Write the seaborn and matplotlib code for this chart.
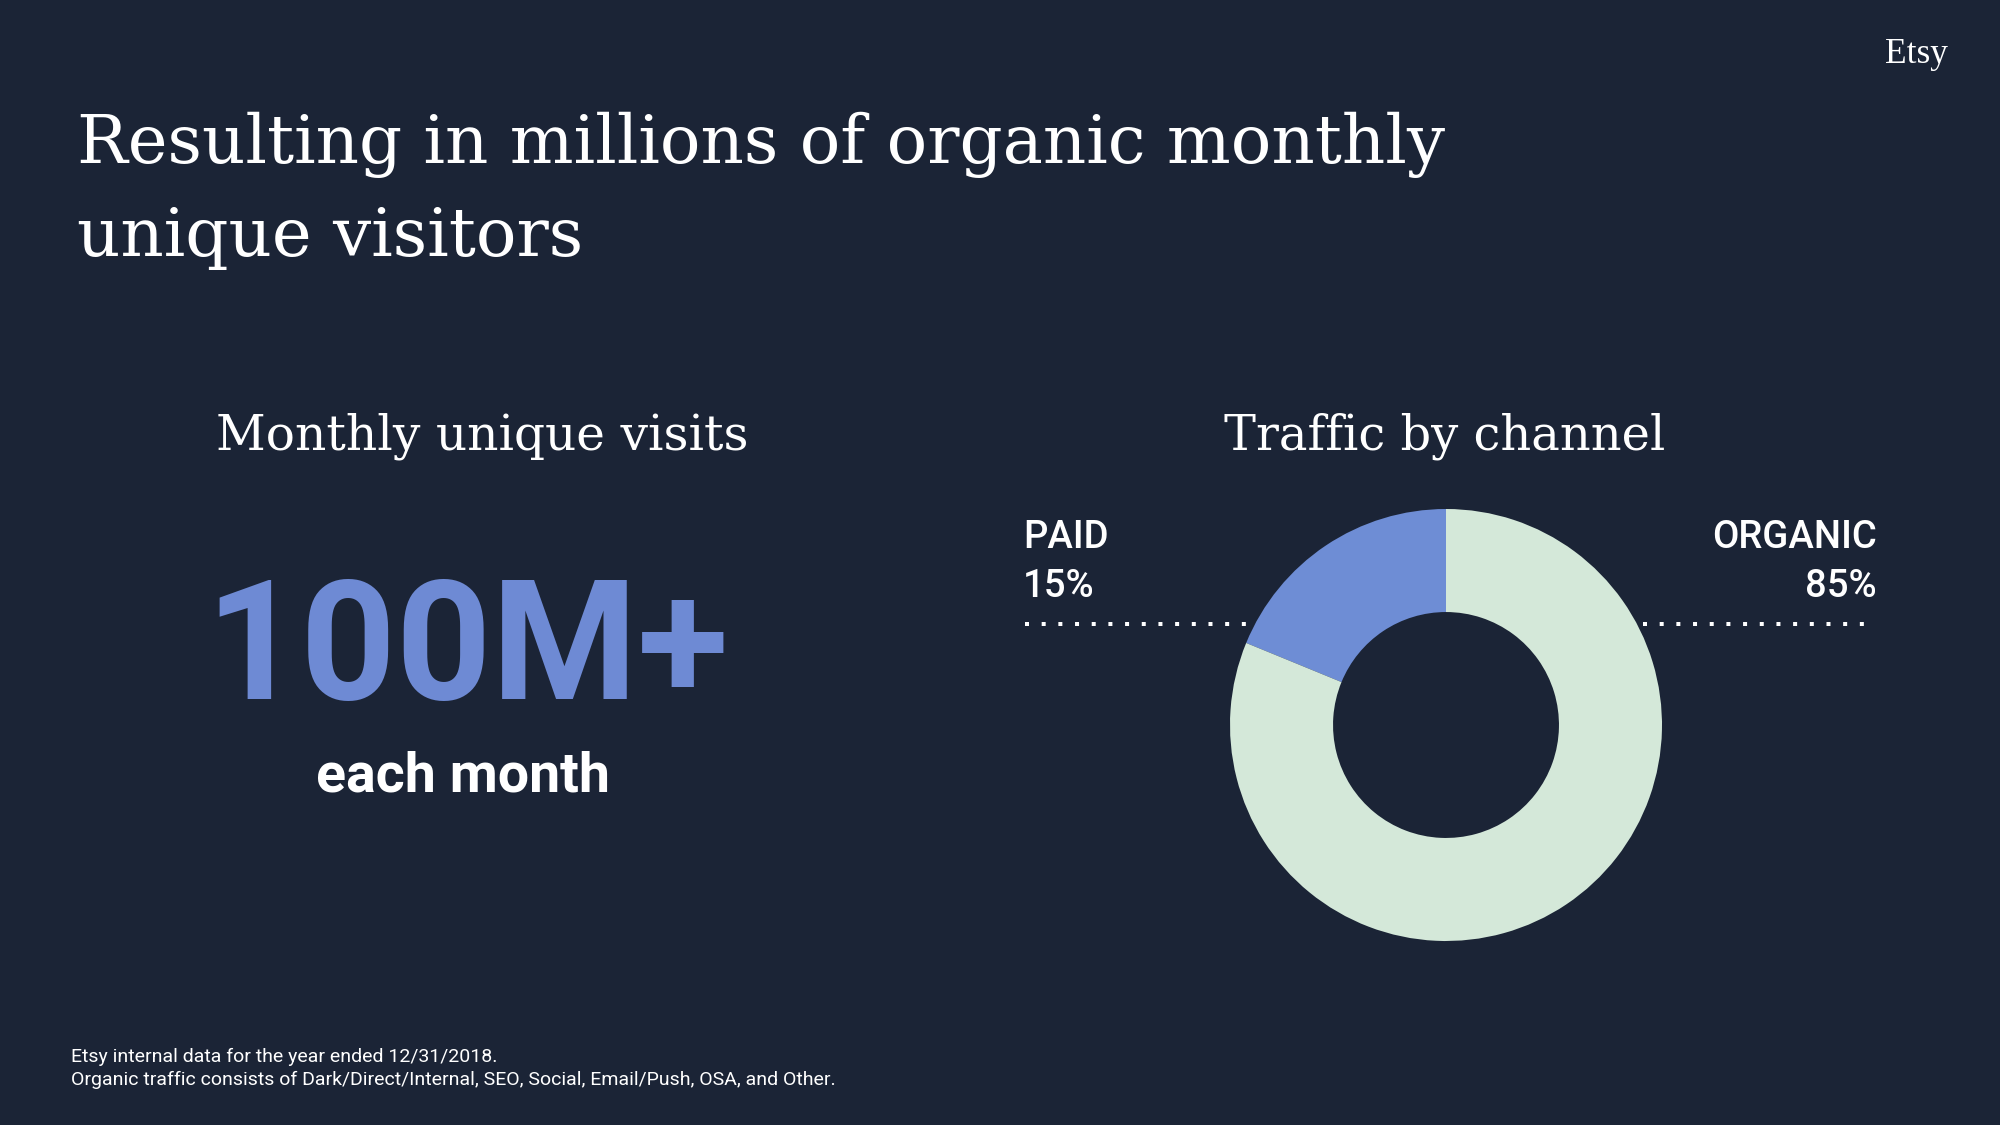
import matplotlib
matplotlib.use("Agg")
import matplotlib.pyplot as plt
import seaborn as sns
from matplotlib.lines import Line2D

# ---- data ----
channels = ["PAID", "ORGANIC"]
share_drawn = [18.8, 81.2]          # wedge sizes as drawn in the reference
share_labels = ["15%", "85%"]       # labels as printed
channel_colors = ["#6E8DD5", "#D4E8D9"]
headline_value = "100M+"
headline_sub = "each month"
title_lines = ["Resulting in millions of organic monthly", "unique visitors"]
left_heading = "Monthly unique visits"
right_heading = "Traffic by channel"
footnotes = ["Etsy internal data for the year ended 12/31/2018.",
             "Organic traffic consists of Dark/Direct/Internal, SEO, Social, Email/Push, OSA, and Other."]

BG = "#1B2436"
W, H = 2000, 1125

sns.set_theme(style="white")
plt.rcParams['font.family'] = ['Roboto', 'DejaVu Sans']

fig = plt.figure(figsize=(20, 11.25), dpi=100)
fig.patch.set_facecolor(BG)

def px(x, y):
    return x / W, 1 - y / H

SERIF = ['DejaVu Serif']

# title
fig.text(*px(77, 163), title_lines[0], family=SERIF, fontsize=48.5, color="white", va="baseline", ha="left")
fig.text(*px(77, 256), title_lines[1], family=SERIF, fontsize=48.5, color="white", va="baseline", ha="left")

# logo
fig.text(*px(1948, 63), "Etsy", family=['Liberation Serif'], fontsize=25.5, color="white", va="baseline", ha="right")

# headings
fig.text(*px(482, 449), left_heading, family=SERIF, fontsize=35, color="white", va="baseline", ha="center")
fig.text(*px(1445, 449), right_heading, family=SERIF, fontsize=34.5, color="white", va="baseline", ha="center")

# headline
fig.text(*px(467, 699), headline_value, fontsize=120, fontweight="bold", color="#6E8AD4", va="baseline", ha="center")
fig.text(*px(463, 792), headline_sub, fontsize=40, fontweight="bold", color="white", va="baseline", ha="center")

# channel labels
fig.text(*px(1023, 548), channels[0], fontsize=27.5, fontweight="medium", color="white", va="baseline", ha="left")
fig.text(*px(1023, 597), share_labels[0], fontsize=27.5, fontweight="medium", color="white", va="baseline", ha="left")
fig.text(*px(1877, 548), channels[1], fontsize=27.5, fontweight="medium", color="white", va="baseline", ha="right")
fig.text(*px(1877, 597), share_labels[1], fontsize=27.5, fontweight="medium", color="white", va="baseline", ha="right")

# dotted leader lines
for x0, x1 in [(1025, 1249), (1643, 1869)]:
    (fx0, fy), (fx1, _) = px(x0, 624), px(x1, 624)
    fig.add_artist(Line2D([fx0, fx1], [fy, fy], transform=fig.transFigure, color="white",
                          lw=2.88, linestyle=(0, (1, 3.17)), solid_capstyle="butt", dash_capstyle="butt"))

# donut
cx, cy, R = 1446, 725, 216
ax = fig.add_axes([(cx - R) / W, (H - cy - R) / H, 2 * R / W, 2 * R / H])
ax.set_facecolor("none")
ax.pie(share_drawn, colors=channel_colors, startangle=90, counterclock=True, radius=1.0,
       wedgeprops=dict(width=0.477, edgecolor="none", linewidth=0))
ax.set_xlim(-1, 1)
ax.set_ylim(-1, 1)
ax.set_aspect("equal")
ax.axis("off")

# footnotes
fig.text(*px(71, 1062), footnotes[0], fontsize=14, color="white", va="baseline", ha="left")
fig.text(*px(71, 1085), footnotes[1], fontsize=14, color="white", va="baseline", ha="left")

fig.savefig("out.png", dpi=100, facecolor=BG)
